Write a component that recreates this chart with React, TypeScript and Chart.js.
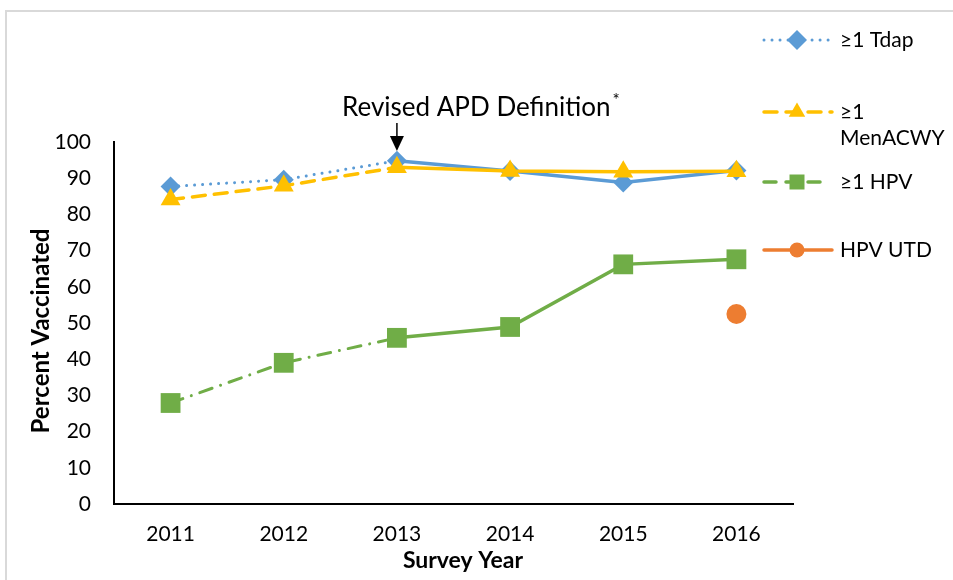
import React, { useEffect, useRef } from "react";
import { Chart, registerables } from "chart.js";

Chart.register(...registerables);

const years = ["2011", "2012", "2013", "2014", "2015", "2016"];
const tdap = [87.7, 89.6, 94.8, 92.0, 88.8, 92.1];
const menacwy = [84.1, 87.9, 93.0, 92.0, 91.8, 91.9];
const hpv1 = [27.9, 39.0, 45.9, 48.9, 66.2, 67.6];
const hpvUtd = [null, null, null, null, null, 52.5];

const BLUE = "#5B9BD5";
const GOLD = "#FFC000";
const GREEN = "#70AD47";
const ORANGE = "#ED7D31";
const FONT = "Lato, 'Open Sans', sans-serif";

const DOT = [0.01, 8];
const DASH = [13, 9];
const DASHDOT = [13, 9, 0.01, 9];

const pre = (dash: number[]) => (ctx: any) => (ctx.p0DataIndex < 2 ? dash : undefined);
const preWidth = (w: number, w2: number) => (ctx: any) => (ctx.p0DataIndex < 2 ? w : w2);

const legendItems = [
  { lines: ["≥1 Tdap"], color: BLUE, dash: DOT, width: 3, marker: "diamond", y: 40, x2: 832 },
  { lines: ["≥1", "MenACWY"], color: GOLD, dash: DASH, width: 3.5, marker: "triangle", y: 112, x2: 832 },
  { lines: ["≥1 HPV"], color: GREEN, dash: [12, 10], width: 3.5, marker: "square", y: 182, x2: 822 },
  { lines: ["HPV UTD"], color: ORANGE, dash: [], width: 3.5, marker: "circle", y: 250, x2: 832 },
];

function drawMarker(ctx: CanvasRenderingContext2D, kind: string, x: number, y: number, color: string) {
  ctx.save();
  ctx.fillStyle = color;
  ctx.beginPath();
  if (kind === "diamond") {
    const r = 10;
    ctx.moveTo(x - r, y);
    ctx.lineTo(x, y - r);
    ctx.lineTo(x + r, y);
    ctx.lineTo(x, y + r);
    ctx.closePath();
  } else if (kind === "triangle") {
    const r = 9.5;
    ctx.moveTo(x, y - r);
    ctx.lineTo(x + r * 0.866, y + r * 0.5);
    ctx.lineTo(x - r * 0.866, y + r * 0.5);
    ctx.closePath();
  } else if (kind === "square") {
    ctx.rect(x - 7.5, y - 7.5, 15, 15);
  } else {
    ctx.arc(x, y, 7.5, 0, Math.PI * 2);
  }
  ctx.fill();
  ctx.restore();
}

const overlayPlugin = {
  id: "overlay",
  afterDraw(chart: any) {
    const ctx: CanvasRenderingContext2D = chart.ctx;
    const area = chart.chartArea;
    ctx.save();
    // legend
    legendItems.forEach((it) => {
      ctx.save();
      ctx.strokeStyle = it.color;
      ctx.lineWidth = it.width;
      ctx.lineCap = "round";
      ctx.setLineDash(it.dash);
      ctx.beginPath();
      ctx.moveTo(764, it.y);
      ctx.lineTo(it.x2, it.y);
      ctx.stroke();
      ctx.restore();
      drawMarker(ctx, it.marker, 797, it.y, it.color);
      ctx.fillStyle = "#000";
      ctx.font = `21px ${FONT}`;
      ctx.textAlign = "left";
      ctx.textBaseline = "middle";
      it.lines.forEach((t, i) => ctx.fillText(t, 840, it.y + i * 26));
    });

    // axis titles
    ctx.fillStyle = "#000";
    ctx.font = `bold 23px ${FONT}`;
    ctx.textAlign = "center";
    ctx.textBaseline = "middle";
    ctx.fillText("Survey Year", 463, 561);
    ctx.save();
    ctx.font = `bold 24px ${FONT}`;
    ctx.translate(41, 331);
    ctx.rotate(-Math.PI / 2);
    ctx.fillText("Percent Vaccinated", 0, 0);
    ctx.restore();

    // annotation
    ctx.font = `26px ${FONT}`;
    ctx.textAlign = "left";
    ctx.textBaseline = "alphabetic";
    const label = "Revised APD Definition";
    ctx.fillText(label, 342, 116);
    const w = ctx.measureText(label).width;
    ctx.font = `17px ${FONT}`;
    ctx.fillText("*", 342 + w + 2, 106);

    const ax = chart.scales.x.getPixelForValue(2);
    ctx.strokeStyle = "#000";
    ctx.lineWidth = 1.5;
    ctx.beginPath();
    ctx.moveTo(ax, 123);
    ctx.lineTo(ax, 138);
    ctx.stroke();
    ctx.fillStyle = "#000";
    ctx.beginPath();
    ctx.moveTo(ax - 7, 136);
    ctx.lineTo(ax + 7, 136);
    ctx.lineTo(ax, 151);
    ctx.closePath();
    ctx.fill();
    ctx.restore();
  },
};

export default function App() {
  const ref = useRef<HTMLCanvasElement | null>(null);
  useEffect(() => {
    if (!ref.current) return;
    const chart = new Chart(ref.current, {
      type: "line",
      data: {
        labels: years,
        datasets: [
          {
            label: "≥1 Tdap",
            data: tdap,
            borderColor: BLUE,
            backgroundColor: BLUE,
            borderWidth: 3.5,
            borderCapStyle: "round",
            pointStyle: "rectRot",
            pointRadius: 10,
            pointBorderWidth: 0,
            order: 3,
            segment: { borderDash: pre(DOT), borderWidth: preWidth(3, 3.5) },
          } as any,
          {
            label: "≥1 MenACWY",
            data: menacwy,
            borderColor: GOLD,
            backgroundColor: GOLD,
            borderWidth: 3.5,
            borderCapStyle: "round",
            pointStyle: "triangle",
            pointRadius: 11.5,
            pointBorderWidth: 0,
            order: 2,
            segment: { borderDash: pre(DASH) },
          } as any,
          {
            label: "≥1 HPV",
            data: hpv1,
            borderColor: GREEN,
            backgroundColor: GREEN,
            borderWidth: 3.5,
            borderCapStyle: "round",
            pointStyle: "rect",
            pointRadius: 14,
            pointBorderWidth: 0,
            order: 1,
            segment: { borderDash: pre(DASHDOT), borderWidth: preWidth(3, 3.5) },
          } as any,
          {
            label: "HPV UTD",
            data: hpvUtd,
            borderColor: ORANGE,
            backgroundColor: ORANGE,
            borderWidth: 3.5,
            pointStyle: "circle",
            pointRadius: 10,
            pointBorderWidth: 0,
            order: 0,
          },
        ],
      },
      options: {
        responsive: false,
        animation: false,
        devicePixelRatio: 1,
        layout: { padding: { top: 142, right: 160, left: 0, bottom: 0 } },
        elements: { line: { tension: 0 } },
        plugins: { legend: { display: false }, tooltip: { enabled: false } },
        scales: {
          x: {
            offset: true,
            grid: { display: false, drawTicks: false },
            border: { display: true, color: "#000", width: 2 },
            ticks: { color: "#000", font: { family: FONT, size: 21 }, padding: 18 },
            afterFit: (s: any) => {
              s.height = 76;
            },
          },
          y: {
            min: 0,
            max: 100,
            grid: { display: false, drawTicks: false },
            border: { display: true, color: "#000", width: 2 },
            ticks: { stepSize: 10, color: "#000", font: { family: FONT, size: 21 }, padding: 23 },
            afterFit: (s: any) => {
              s.width = 114;
            },
          },
        },
      },
      plugins: [overlayPlugin],
    });
    return () => chart.destroy();
  }, []);

  return (
    <div style={{ position: "fixed", left: 0, top: 0, width: 953, height: 580, overflow: "hidden", background: "#fff" }}>
      <div
        style={{
          position: "absolute",
          left: 5,
          top: 10,
          width: 1000,
          height: 1000,
          border: "2px solid #d9d9d9",
        }}
      />
      <canvas ref={ref} width={953} height={580} style={{ position: "absolute", left: 0, top: 0, width: 953, height: 580 }} />
    </div>
  );
}
